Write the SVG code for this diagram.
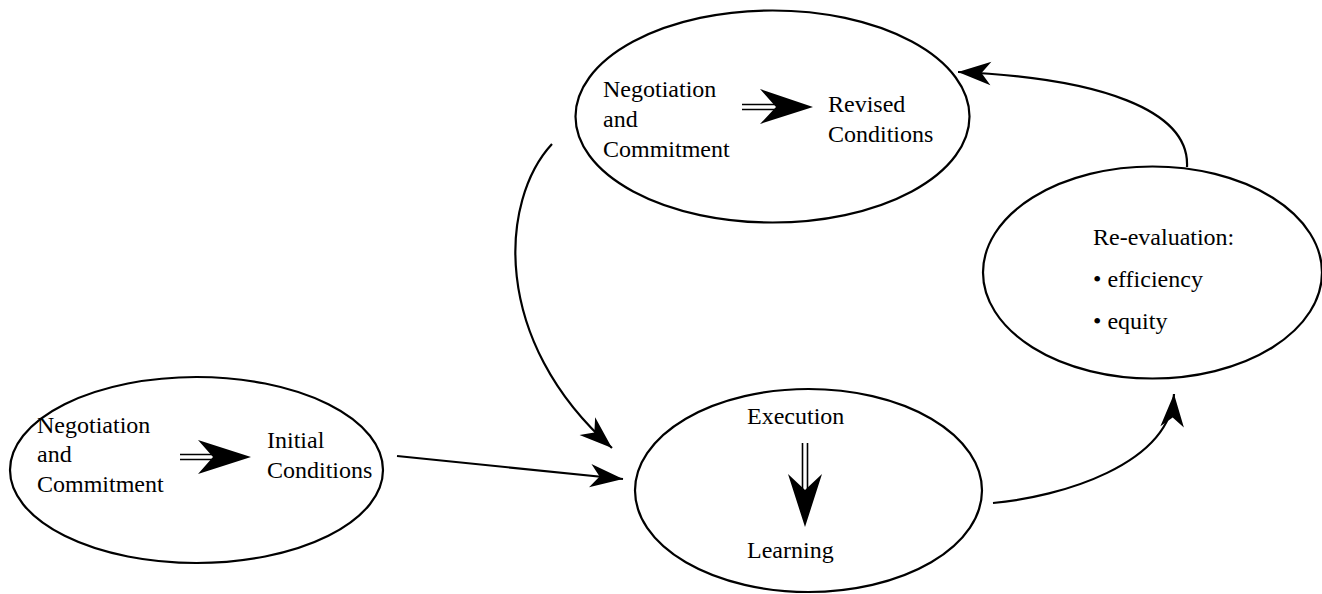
<svg xmlns="http://www.w3.org/2000/svg" width="1322" height="594" viewBox="0 0 1322 594">
<style>
.node{fill:none;stroke:#000;stroke-width:2.2}
.t{font-family:"Liberation Serif","Times New Roman",serif;font-size:24px;fill:#000}
.con{fill:none;stroke:#000;stroke-width:2.2}
.dbl{stroke:#000;stroke-width:1.6;fill:none}
.head{fill:#000;stroke:none}
</style>
<defs>
<marker id="arr" markerUnits="userSpaceOnUse" markerWidth="40" markerHeight="40" viewBox="-30 -15 34 30" refX="0" refY="0" orient="auto">
<path d="M0,0 L-28,-10 L-20,0 L-28,10 Z" fill="#000"/>
</marker>
</defs>
<rect width="1322" height="594" fill="#fff"/>
<g id="node-initial">
<ellipse class="node" cx="196.5" cy="470" rx="186.5" ry="93"/>
<text class="t" x="37" y="433">Negotiation</text>
<text class="t" x="37" y="462">and</text>
<text class="t" x="37" y="492">Commitment</text>
<line class="dbl" x1="180" y1="454.5" x2="215" y2="454.5"/>
<line class="dbl" x1="180" y1="459.5" x2="215" y2="459.5"/>
<path class="head" d="M251,457 L198,440 L213,457 L198,474 Z"/>
<text class="t" x="267" y="448">Initial</text>
<text class="t" x="267" y="478">Conditions</text>
</g>
<g id="node-revised">
<ellipse class="node" cx="772.5" cy="116.5" rx="197" ry="106"/>
<text class="t" x="603" y="97">Negotiation</text>
<text class="t" x="603" y="127">and</text>
<text class="t" x="603" y="157">Commitment</text>
<line class="dbl" x1="742" y1="104.5" x2="778" y2="104.5"/>
<line class="dbl" x1="742" y1="109.5" x2="778" y2="109.5"/>
<path class="head" d="M813,107 L760,89 L776,107 L760,124 Z"/>
<text class="t" x="828" y="112">Revised</text>
<text class="t" x="828" y="142">Conditions</text>
</g>
<g id="node-execution">
<ellipse class="node" cx="808.5" cy="490.5" rx="173.5" ry="101.5"/>
<text class="t" x="747" y="424">Execution</text>
<line class="dbl" x1="802.5" y1="443" x2="802.5" y2="490"/>
<line class="dbl" x1="807.5" y1="443" x2="807.5" y2="490"/>
<path class="head" d="M805,527 L788,474 L805,490 L822,474 Z"/>
<text class="t" x="747" y="558">Learning</text>
</g>
<g id="node-reevaluation">
<ellipse class="node" cx="1152.5" cy="272.5" rx="169.5" ry="106"/>
<text class="t" x="1093" y="245">Re-evaluation:</text>
<text class="t" x="1093" y="287">• efficiency</text>
<text class="t" x="1093" y="329">• equity</text>
</g>
<g id="connectors">
<path class="con" d="M397,456 L623,479" marker-end="url(#arr)"/>
<path class="con" d="M552,144 C500,200 490,340 612,448" marker-end="url(#arr)"/>
<path class="con" d="M993,503 C1060,497 1170,465 1174,394" marker-end="url(#arr)"/>
<path class="con" d="M1187,167 C1190,110 1100,78 958,72" marker-end="url(#arr)"/>
</g>
</svg>
